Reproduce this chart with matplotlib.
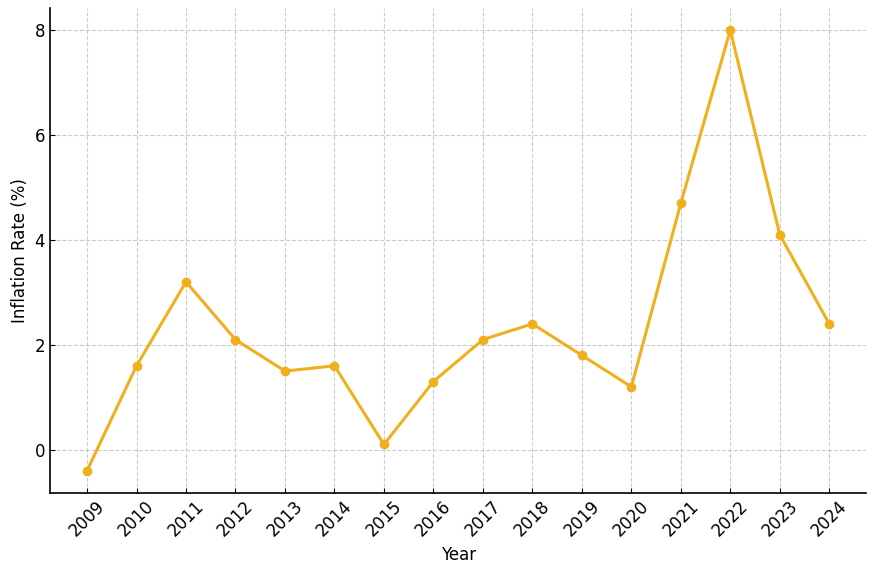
import matplotlib
matplotlib.use("Agg")
from matplotlib import pyplot as plt

years = [2009, 2010, 2011, 2012, 2013, 2014, 2015, 2016,
         2017, 2018, 2019, 2020, 2021, 2022, 2023, 2024]
inflation = [-0.4, 1.6, 3.2, 2.1, 1.5, 1.6, 0.1, 1.3,
             2.1, 2.4, 1.8, 1.2, 4.7, 8.0, 4.1, 2.4]

fig, ax = plt.subplots(figsize=(8.76, 5.77), dpi=100)
ax.plot(years, inflation, marker='o', color='#F0B01E', linewidth=2.2, markersize=6)

ax.set_xticks(years)
ax.set_xticklabels([str(y) for y in years], rotation=45)
ax.set_xlabel('Year', fontsize=12)
ax.set_ylabel('Inflation Rate (%)', fontsize=12)
ax.tick_params(direction='in', labelsize=12)
ax.grid(True, linestyle='--', color='#cccccc', linewidth=0.8)
ax.spines['top'].set_visible(False)
ax.spines['right'].set_visible(False)
ax.spines['left'].set_linewidth(1.2)
ax.spines['bottom'].set_linewidth(1.2)

plt.subplots_adjust(left=0.057, right=0.989, top=0.986, bottom=0.146)
fig.savefig('out.png')
